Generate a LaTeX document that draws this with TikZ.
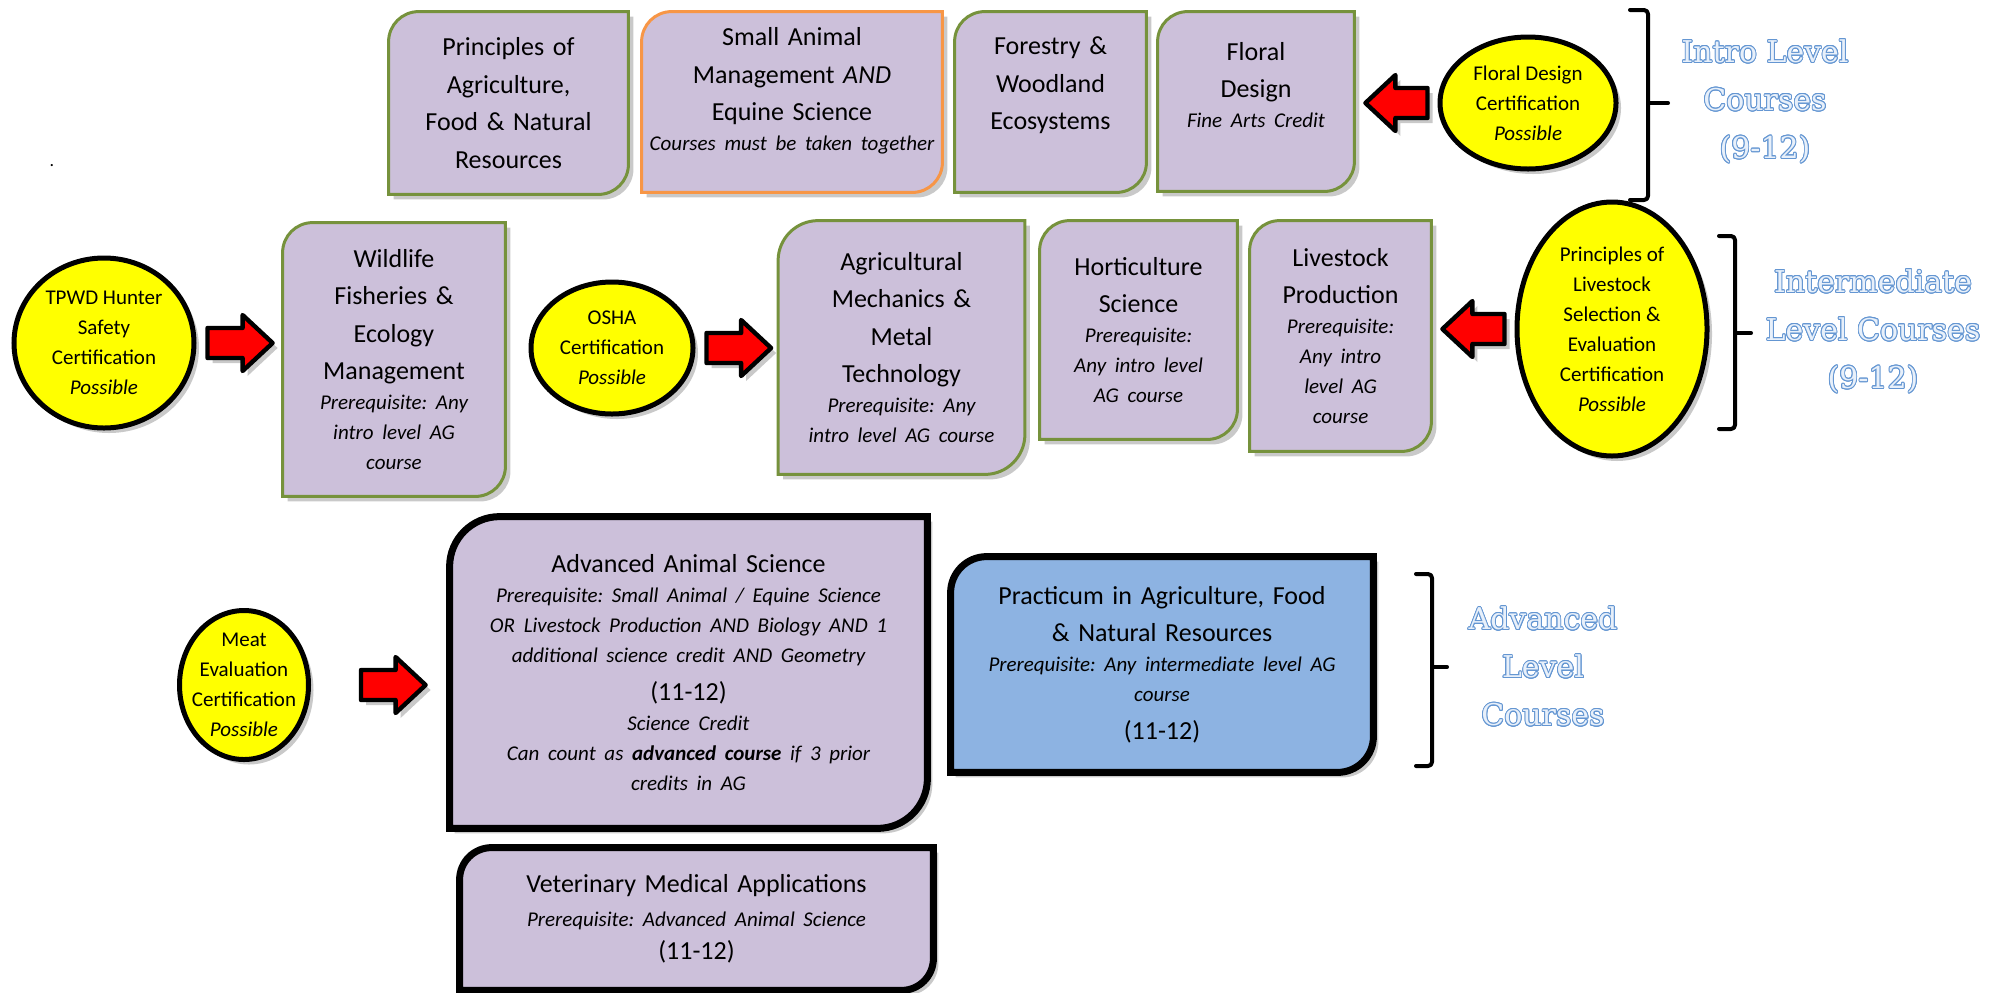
\documentclass[tikz,border=0pt]{standalone}
\usepackage{fontspec}
\setmainfont{Carlito}
\newfontfamily\hdfont{DejaVu Serif}
\usepackage{contour}
\contourlength{0.45pt}
\usetikzlibrary{shapes.geometric, shadows, backgrounds, calc}
\definecolor{crspurple}{RGB}{204, 192, 218}
\definecolor{crsgreen}{RGB}{118, 146, 60}
\definecolor{crsorange}{RGB}{247, 150, 70}
\definecolor{prcblue}{RGB}{141, 179, 226}
\definecolor{certyellow}{RGB}{255, 255, 0}
\definecolor{arrowred}{RGB}{255, 0, 0}
\definecolor{hdline}{RGB}{100, 150, 210}
\definecolor{hdfill}{RGB}{232, 240, 250}
\frenchspacing

\newcommand\crs{\fontsize{13}{18.75}\selectfont}
\newcommand\prq{\fontsize{10.5}{15}\selectfont\itshape}
\newcommand\crt{\fontsize{10.5}{15}\selectfont}
\newcommand\pushup[1]{\rule[-#1]{0pt}{#1}}
\newcommand\hd[1]{\contour{hdline}{#1}}
% course outline: rounded top left and bottom right
\newcommand\crsshape[3][15pt]{%
  \path[#3] (#2.south west) -- ([yshift=-#1]#2.north west)
    arc[start angle=180, end angle=90, radius=#1] -- (#2.north east)
    -- ([yshift=#1]#2.south east) arc[start angle=0, end angle=-90, radius=#1] -- cycle;}

\tikzset{
  boxshadow/.style={drop shadow={shadow xshift=2.5pt, shadow yshift=-2.5pt, opacity=.3, fill=black!70}},
  course/.style={inner sep=0pt, align=center, font=\crs},
  crsline/.style={fill=crspurple, draw=crsgreen, line width=1.5pt, boxshadow},
  andline/.style={fill=crspurple, draw=crsorange, line width=1.5pt, boxshadow},
  advline/.style={fill=crspurple, draw=black, line width=3.5pt, boxshadow},
  prcline/.style={fill=prcblue, draw=black, line width=3.5pt, boxshadow},
  cert/.style={ellipse, draw=black, line width=2.5pt, fill=certyellow, inner sep=0pt, align=center, font=\crt, boxshadow},
  heading/.style={align=center, font=\hdfont\fontsize{15}{24}\selectfont, text=hdfill},
  bracket/.style={line width=2pt, line cap=round, line join=round, rounded corners=2pt},
  certarrow/.style={draw=black, line width=2.2pt, fill=arrowred, line join=round, boxshadow,
    to path={let \p1=(\tikztostart), \p2=(\tikztotarget), \n1={\x2-15pt*((\x2>\x1)*2-1)} in
      (\x1,\y1+7.5pt) -- (\n1,\y1+7.5pt) -- (\n1,\y1+14pt) -- (\x2,\y1)
      -- (\n1,\y1-14pt) -- (\n1,\y1-7.5pt) -- (\x1,\y1-7.5pt) -- cycle}}
}

\begin{document}
\begin{tikzpicture}[x=0.5pt, y=-0.5pt]
\useasboundingbox (0,0) rectangle (2005,992);

% Intro level courses
\node[course, minimum width=119.5pt, minimum height=91pt, text width=112pt] (principles) at (508.5,103) {Principles of\\Agriculture,\\Food \& Natural\\Resources};
\node[course, minimum width=150pt, minimum height=90pt, text width=145pt] (smallanimal) at (792,102) {Small Animal\\Management \textit{AND}\\Equine Science\par{\prq Courses must be taken together\pushup{13pt}\par}};
\node[course, minimum width=95.5pt, minimum height=90pt, text width=90pt] (forestry) at (1050.5,102) {Forestry \&\\Woodland\\Ecosystems\pushup{18.5pt}};
\node[course, minimum width=98pt, minimum height=89.5pt, text width=92pt] (floral) at (1256,101.5) {Floral\\Design\par{\prq Fine Arts Credit\pushup{16.5pt}\par}};

% Intermediate level courses
\node[course, minimum width=111pt, minimum height=136.5pt, text width=105pt] (wildlife) at (394,359.5) {Wildlife\\Fisheries \&\\Ecology\\Management\par{\prq Prerequisite: Any\\intro level AG\\course\par}};
\node[course, minimum width=123pt, minimum height=126.5pt, text width=117pt] (agmech) at (901.5,347.5) {Agricultural\\Mechanics \&\\Metal\\Technology\par{\prq Prerequisite: Any\\intro level AG course\par}};
\node[course, minimum width=98.5pt, minimum height=109pt, text width=93pt] (horti) at (1138.5,330) {Horticulture\\Science\par{\prq Prerequisite:\\Any intro level\\AG course\par}};
\node[course, minimum width=90.5pt, minimum height=115pt, text width=86pt] (livestock) at (1340.5,336) {Livestock\\Production\par{\prq Prerequisite:\\Any intro\\level AG\\course\par}};

% Advanced level courses
\node[course, minimum width=238.5pt, minimum height=155.5pt, text width=230pt] (advanimal) at (688.5,672.5) {Advanced Animal Science\par{\prq Prerequisite: Small Animal / Equine Science\\OR Livestock Production AND Biology AND 1\\additional science credit AND Geometry\par}(11-12)\par{\prq Science Credit\\Can count as \textbf{advanced course} if 3 prior\\credits in AG\par}};
\node[course, minimum width=211pt, minimum height=107.5pt, text width=200pt] (practicum) at (1162,664.5) {Practicum in Agriculture, Food\\\& Natural Resources\par{\prq Prerequisite: Any intermediate level AG\\course\par}(11-12)};
\node[course, minimum width=236.5pt, minimum height=71pt, text width=228pt] (vetmed) at (696.5,919) {Veterinary Medical Applications\par{\fontsize{10.5}{17}\selectfont\itshape Prerequisite: Advanced Animal Science\par}{\fontsize{13}{16.5}\selectfont (11-12)\par}};

% Course outlines
\begin{scope}[on background layer]
\crsshape{principles}{crsline}
\crsshape{smallanimal}{andline}
\crsshape{forestry}{crsline}
\crsshape{floral}{crsline}
\crsshape{wildlife}{crsline}
\crsshape[20pt]{agmech}{crsline}
\crsshape{horti}{crsline}
\crsshape{livestock}{crsline}
\crsshape[25pt]{advanimal}{advline}
\crsshape[18pt]{practicum}{prcline}
\crsshape[16pt]{vetmed}{advline}
\end{scope}

% Certifications
\node[cert, minimum width=88pt, minimum height=66pt] (floralcert) at (1528,103) {Floral Design\\Certification\\\textit{Possible}};
\node[cert, minimum width=90pt, minimum height=85pt] (tpwd) at (104,343) {TPWD Hunter\\Safety\\Certification\\\textit{Possible}};
\node[cert, minimum width=81pt, minimum height=66pt] (osha) at (612,348) {OSHA\\Certification\\\textit{Possible}};
\node[cert, minimum width=95pt, minimum height=127pt] (livecert) at (1612,329) {Principles of\\Livestock\\Selection \&\\Evaluation\\Certification\\\textit{Possible}};
\node[cert, minimum width=64.5pt, minimum height=74.5pt, inner xsep=-5pt, inner ysep=-1.5pt] (meat) at (244,685) {Meat\\Evaluation\\Certification\\\textit{Possible}};

% Arrows
\draw[certarrow] ($(tpwd.east)+(5.5pt,0)$) to ($(tpwd.east -| wildlife.west)+(-5pt,0)$);
\draw[certarrow] ($(osha.east)+(5.5pt,0)$) to ($(osha.east -| agmech.west)+(-3.5pt,0)$);
\draw[certarrow] ($(floralcert.west)+(-5pt,0)$) to ($(floralcert.west -| floral.east)+(5.5pt,0)$);
\draw[certarrow] ($(livecert.west)+(-5pt,0)$) to ($(livecert.west -| livestock.east)+(5.5pt,0)$);
\draw[certarrow] ($(meat.east)+(25pt,0)$) to ($(meat.east -| advanimal.west)+(-12pt,0)$);

% Brackets
\draw[bracket] (1630,10) -- (1648,10) -- (1648,200) -- (1630,200);
\draw[bracket] (1648,103) -- (1668,103);
\draw[bracket] (1719,236) -- (1735,236) -- (1735,429) -- (1719,429);
\draw[bracket] (1735,333) -- (1751,333);
\draw[bracket] (1416,574) -- (1432,574) -- (1432,766) -- (1416,766);
\draw[bracket] (1432,667) -- (1447,667);

% Level labels
\node[heading] (introhd) at (1765,102) {\hd{Intro Level}\\\hd{Courses}\\\hd{(9-12)}};
\node[heading] (interhd) at (1873,332) {\hd{Intermediate}\\\hd{Level Courses}\\\hd{(9-12)}};
\node[heading] (advhd) at (1543,667) {\hd{Advanced}\\\hd{Level}\\\hd{Courses}};

\node[font=\fontsize{9}{10}\selectfont, inner sep=0pt] (dot) at (52,166) {.};
\end{tikzpicture}
\end{document}
